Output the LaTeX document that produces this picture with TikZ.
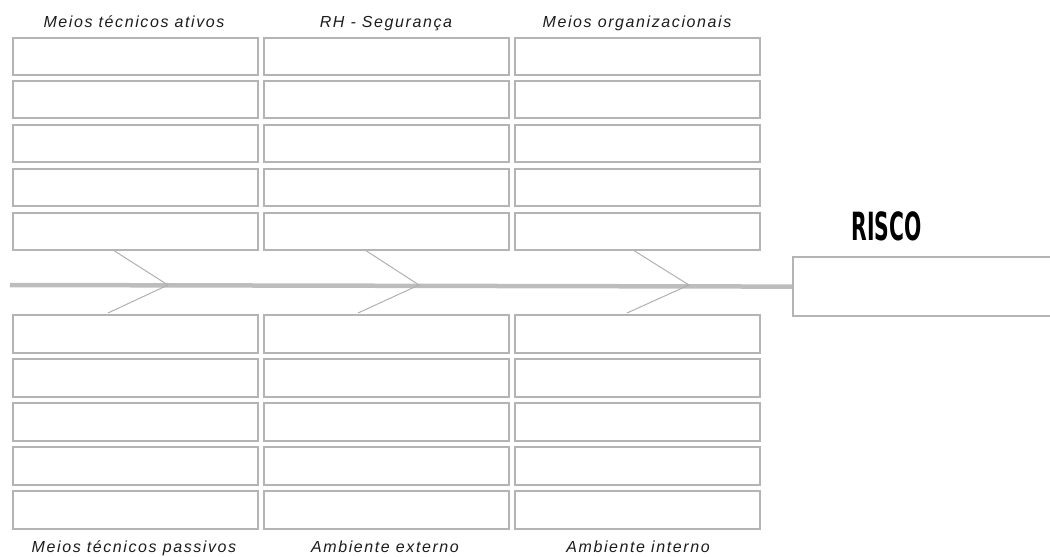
\documentclass[tikz,border=0pt]{standalone}
\usepackage{fontspec}
\usepackage{graphicx}
\newfontfamily\labelfont{Liberation Sans}[LetterSpace=10]
\newfontfamily\titlefont{DejaVu Sans}
\definecolor{boxline}{HTML}{B4B4B4}
\definecolor{spineline}{HTML}{BDBDBD}
\definecolor{chevline}{HTML}{B0B0B0}
\definecolor{labeltext}{HTML}{1C1C1C}
\tikzset{
  cell/.style={draw=boxline, line width=2.2pt, fill=white, rectangle,
    minimum width=245pt, minimum height=37pt, inner sep=0pt, anchor=north west},
  catlabel/.style={font=\labelfont\itshape\fontsize{16}{18}\selectfont,
    text=labeltext, anchor=base, inner sep=0pt},
  spine/.style={draw=spineline, line width=4.5pt},
  chevron/.style={draw=chevline, line width=1pt},
  effectbox/.style={draw=boxline, line width=2.2pt, fill=white, rectangle,
    minimum width=270pt, minimum height=59pt, inner sep=0pt, anchor=north west},
}
\begin{document}
\begin{tikzpicture}[x=1pt, y=-1pt]
\useasboundingbox (0,0) rectangle (1050,557);
\begin{scope}
\clip (0,0) rectangle (1050,557);

% backbone with its end point
\coordinate (tail) at (10,285);
\node[effectbox] (risco) at (792,256) {};
\draw[spine] (tail) -- (risco.west);

% chevrons along the backbone
\foreach \i/\ux/\tx/\lx in {1/113/168/108, 2/365/419/358, 3/633/689/627} {
  \coordinate (cu\i) at (\ux,250);
  \coordinate (ct\i) at (\tx,285);
  \coordinate (cl\i) at (\lx,313);
  \draw[chevron] (cu\i) -- (ct\i) -- (cl\i);
}

% cause boxes: three columns, five rows above and five below the backbone
\foreach \c/\x in {1/12, 2/263, 3/514} {
  \foreach \r/\y in {1/36.5, 2/80, 3/123.5, 4/167.5, 5/211.5} {
    \node[cell] (top\c\r) at (\x,\y) {};
  }
  \foreach \r/\y in {1/313.5, 2/357.5, 3/401.5, 4/445.5, 5/489.5} {
    \node[cell, minimum height=38pt] (bot\c\r) at (\x,\y) {};
  }
}
\end{scope}

% category names
\node[catlabel] (l1) at (134,27) {Meios técnicos ativos};
\node[catlabel] (l2) at (386,27) {RH - Segurança};
\node[catlabel] (l3) at (637,27) {Meios organizacionais};
\node[catlabel] (l4) at (134,552) {Meios técnicos passivos};
\node[catlabel] (l5) at (385,552) {Ambiente externo};
\node[catlabel] (l6) at (638,552) {Ambiente interno};

% effect title
\node[inner sep=0pt] (title) at (886.5,226.5)
  {\scalebox{0.55}[1.05]{\titlefont\bfseries\fontsize{37}{40}\selectfont RISCO}};
\end{tikzpicture}
\end{document}
